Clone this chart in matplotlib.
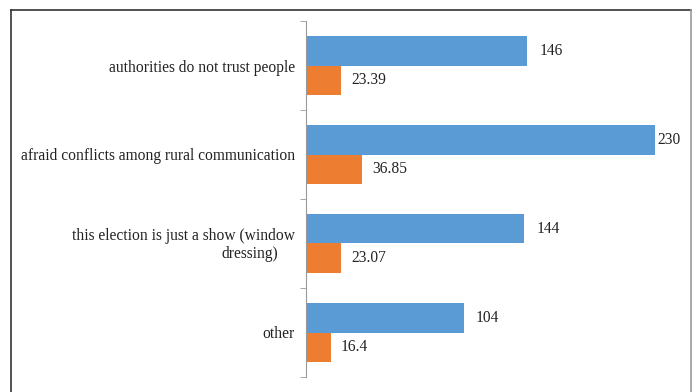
import numpy as np
import matplotlib.pyplot as plt
from matplotlib.lines import Line2D

plt.rcParams['font.family'] = ['Liberation Serif', 'DejaVu Serif']

categories = ['authorities do not trust people',
              'afraid conflicts among rural communication',
              'this election is just a show (window dressing)',
              'other']
counts = [146, 230, 144, 104]
percents = [23.39, 36.85, 23.07, 16.4]
count_labels = ['146', '230', '144', '104']
percent_labels = ['23.39', '36.85', '23.07', '16.4']

fs = 11.2
fig = plt.figure(figsize=(6.97, 3.92), dpi=100)
ax = fig.add_axes([306 / 697, 15 / 392, 364 / 697, 356 / 392])

y = np.arange(len(categories))
h = 0.337
ax.barh(y - h / 2, counts, height=h, color='#5B9BD5')
ax.barh(y + h / 2, percents, height=h, color='#ED7D31')

for i in range(len(categories)):
    off = 3 if counts[i] == max(counts) else 12
    ax.annotate(count_labels[i], (counts[i], y[i] - h / 2), xytext=(off * 0.72, 0),
                textcoords='offset points', va='center', ha='left', fontsize=fs, color='#222222')
    ax.annotate(percent_labels[i], (percents[i], y[i] + h / 2), xytext=(10 * 0.72, 0),
                textcoords='offset points', va='center', ha='left', fontsize=fs, color='#222222')

ax.set_xlim(0, 240)
ax.set_ylim(len(categories) - 0.5, -0.5)
ax.set_xticks([])
ax.set_yticks(y)
# the long label is wrapped by hand below
ax.set_yticklabels([c if len(c) < 44 else '' for c in categories], fontsize=fs, color='#222222')
ax.set_yticks(np.arange(-0.5, len(categories)), minor=True)
ax.tick_params(axis='y', which='major', length=0, pad=8)
ax.tick_params(axis='y', which='minor', length=4, color='#999999', direction='out')

trans = ax.get_yaxis_transform()
for i, c in enumerate(categories):
    if len(c) >= 44:
        ax.text(-11 / 364, y[i] - 0.085, 'this election is just a show (window', transform=trans,
                ha='right', va='center', fontsize=fs, color='#222222')
        ax.text(-0.155, y[i] + 0.12, 'dressing)', transform=trans, ha='center',
                va='center', fontsize=fs, color='#222222')

for s in ['top', 'right', 'bottom']:
    ax.spines[s].set_visible(False)
ax.spines['left'].set_color('#999999')

# outer frame
fig.add_artist(Line2D([11 / 697, 11 / 697], [0, 1 - 10 / 392], color='#333333', lw=1.2))
fig.add_artist(Line2D([11 / 697, 691 / 697], [1 - 10 / 392, 1 - 10 / 392], color='#333333', lw=1.2))
fig.add_artist(Line2D([691 / 697, 691 / 697], [0, 1 - 10 / 392], color='#999999', lw=1.2))

fig.savefig('out.png', dpi=100)
